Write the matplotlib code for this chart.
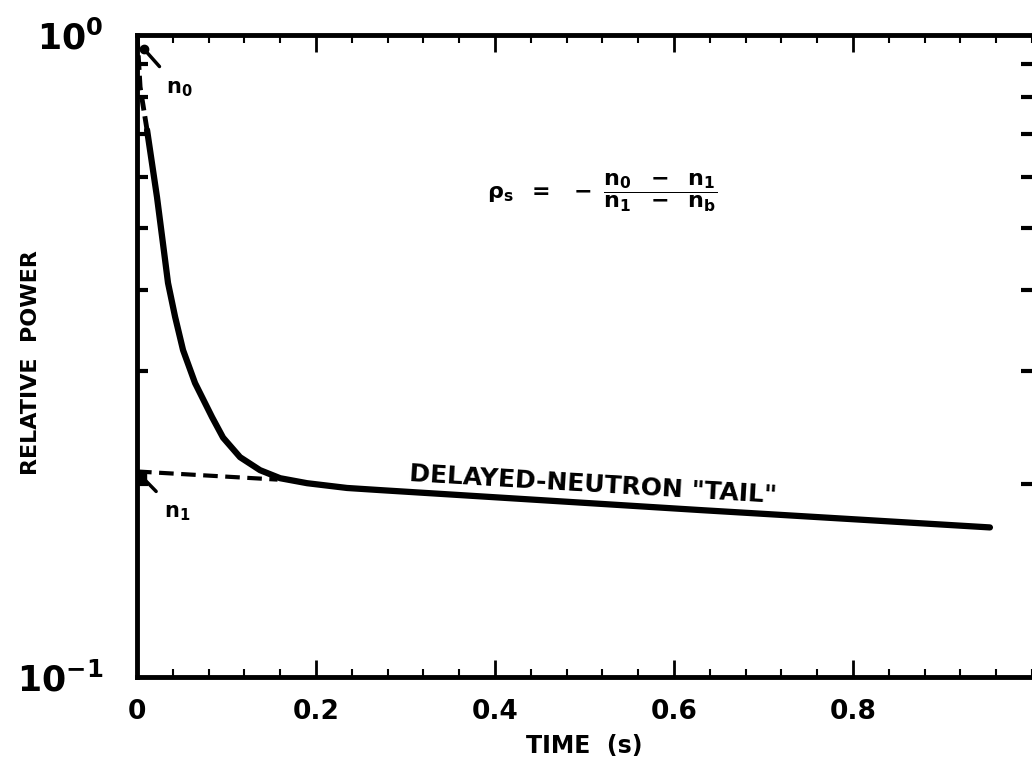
import matplotlib
matplotlib.use("Agg")
import matplotlib.pyplot as plt
from matplotlib.ticker import FixedLocator, MultipleLocator, NullFormatter

# relative power after the drop
time_prompt = [0.0, 0.0034, 0.0112]
power_prompt = [1.0, 0.83, 0.711]

time_curve = [0.0112, 0.0223, 0.0302, 0.0346, 0.0425, 0.0514, 0.0648, 0.0838,
              0.0961, 0.1151, 0.1374, 0.160, 0.190, 0.2346, 0.2715, 0.629, 0.953]
power_curve = [0.711, 0.559, 0.459, 0.411, 0.364, 0.323, 0.287, 0.254,
               0.236, 0.220, 0.210, 0.204, 0.2004, 0.197, 0.1955, 0.182, 0.171]

# extrapolated delayed-neutron tail back to t = 0
time_tail = [0.0, 0.157]
power_tail = [0.209, 0.203]

x_ticks = [0, 0.2, 0.4, 0.6, 0.8]
x_labels = ["0", "0.2", "0.4", "0.6", "0.8"]
y_ticks = [0.1, 1.0]
y_labels = [r"$\mathbf{10^{-1}}$", r"$\mathbf{10^{0}}$"]

plt.rcParams["font.family"] = ["DejaVu Sans"]
plt.rcParams["mathtext.fontset"] = "dejavusans"

fig = plt.figure(figsize=(10.32, 7.63), dpi=100)
ax = fig.add_axes([0.1328, 0.1127, 0.8672, 0.8414])

ax.set_yscale("log")
ax.set_xlim(0, 1.0)
ax.set_ylim(0.1, 1.0)

ax.plot(time_prompt, power_prompt, color="black", lw=3.5, ls=(0, (3, 1.2)),
        solid_capstyle="butt")
ax.plot(time_curve, power_curve, color="black", lw=4.5, solid_capstyle="round",
        solid_joinstyle="round")
ax.plot(time_tail, power_tail, color="black", lw=3, ls=(0, (3.5, 1.8)))

# n0 / n1 markers
ax.annotate(r"$\mathbf{n_0}$", xy=(0.008, 0.95), xytext=(0.047, 0.825),
            fontsize=15, ha="center", va="center",
            arrowprops=dict(arrowstyle="-", color="black", lw=2.5,
                            shrinkA=9, shrinkB=0))
ax.plot([0.008], [0.95], "o", color="black", ms=6)
ax.annotate(r"$\mathbf{n_1}$", xy=(0.004, 0.206), xytext=(0.045, 0.18),
            fontsize=15, ha="center", va="center",
            arrowprops=dict(arrowstyle="-", color="black", lw=2.5,
                            shrinkA=9, shrinkB=0))
ax.plot([0.004], [0.206], "s", color="black", ms=7)

ax.text(0.52, 0.567,
        r"$\mathbf{\rho_s\ \ =\ \ -\ \dfrac{n_0\ \ -\ \ n_1}{n_1\ \ -\ \ n_b}}$",
        fontsize=16, ha="center", va="center")

ax.text(0.51, 0.199, 'DELAYED-NEUTRON "TAIL"', fontsize=18, fontweight="bold",
        ha="center", va="center", rotation=-3.4, rotation_mode="anchor")

# axes styling
for side in ["left", "bottom", "top"]:
    ax.spines[side].set_linewidth(3.5)
ax.spines["right"].set_visible(False)

ax.xaxis.set_major_locator(FixedLocator(x_ticks))
ax.set_xticklabels(x_labels)
ax.xaxis.set_minor_locator(MultipleLocator(0.04))
ax.yaxis.set_major_locator(FixedLocator(y_ticks))
ax.set_yticklabels(y_labels)
ax.yaxis.set_minor_locator(FixedLocator([0.2, 0.3, 0.4, 0.5, 0.6, 0.7, 0.8, 0.9]))
ax.yaxis.set_minor_formatter(NullFormatter())

ax.tick_params(axis="x", which="major", direction="in", length=12, width=2,
               top=True, labelsize=19, pad=16)
ax.tick_params(axis="x", which="minor", direction="in", length=6, width=1.5,
               top=True)
ax.tick_params(axis="y", which="major", direction="in", length=0,
               labelsize=25, pad=24)
ax.tick_params(axis="y", which="minor", direction="in", length=8, width=3,
               right=True)
for lab in ax.get_xticklabels():
    lab.set_fontweight("bold")

ax.set_xlabel("TIME  (s)", fontsize=17, fontweight="bold", labelpad=6)
ax.set_ylabel("RELATIVE  POWER", fontsize=16, fontweight="bold")
ax.yaxis.set_label_coords(-0.107, 0.49)

fig.savefig("out.png", dpi=100, facecolor="white")
